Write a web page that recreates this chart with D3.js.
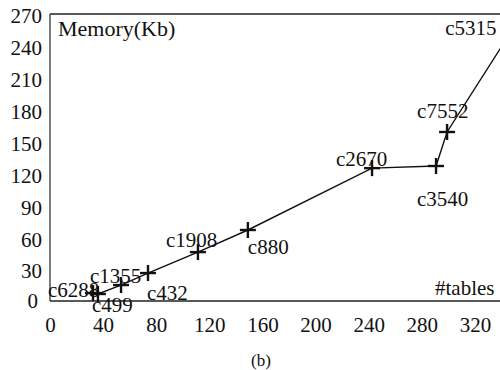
<!DOCTYPE html>
<html>
<head>
<meta charset="utf-8">
<script src="https://cdn.jsdelivr.net/npm/d3@7"></script>
<style>
  html, body { margin: 0; padding: 0; background: #fff; }
  svg { display: block; }
  text { font-family: "Liberation Serif", "Times New Roman", serif; fill: #111; }
</style>
</head>
<body>
<svg id="chart" width="500" height="370"></svg>
<script>
// ---- data ----
const circuits = ["c6288", "c499", "c1355", "c432", "c1908", "c880", "c2670", "c3540", "c7552", "c5315"];
const tables   = [32.4, 36.1, 53.5, 73.8, 111.4, 149, 242.5, 290.7, 299, 348];
const memoryKb = [7.5, 6.6, 15, 26.3, 46, 66.8, 125, 127, 159, 255];
const xTicks = [0, 40, 80, 120, 160, 200, 240, 280, 320];
const yTicks = [0, 30, 60, 90, 120, 150, 180, 210, 240, 270];

// label placement offsets (pixels, relative to the marker)
const labelOffsets = {
  c6288: [-45, 4], c499: [-6, 18], c1355: [-31, -2], c432: [-1, 27],
  c1908: [-32, -5], c880: [0, 24], c2670: [-36, -2], c3540: [-19, 40],
  c7552: [-30, -14], c5315: [-67, 5]
};

const svg = d3.select("#chart");
const x = d3.scaleLinear().domain([0, 340]).range([50, 50 + 340 * 1.328]);
const y = d3.scaleLinear().domain([0, 270]).range([301, 14]);

const data = circuits.map((c, i) => ({ name: c, x: tables[i], y: memoryKb[i] }));

// frame
svg.append("line").attr("x1", x(0)).attr("x2", 500).attr("y1", y(270)).attr("y2", y(270))
  .attr("stroke", "#222").attr("stroke-width", 1.5);
svg.append("line").attr("x1", x(0)).attr("x2", 500).attr("y1", y(0)).attr("y2", y(0))
  .attr("stroke", "#222").attr("stroke-width", 1.5);
svg.append("line").attr("x1", x(0)).attr("x2", x(0)).attr("y1", y(0)).attr("y2", y(270))
  .attr("stroke", "#222").attr("stroke-width", 1.2);

// axes (labels only)
const yAxis = d3.axisLeft(y).tickValues(yTicks).tickSize(0).tickPadding(8);
const yg = svg.append("g").attr("transform", `translate(${x(0)},0)`).call(yAxis);
yg.select(".domain").remove();
yg.selectAll("text").attr("font-size", 21).attr("dy", "0.42em")
  .style("font-family", "Liberation Serif, serif").attr("fill", "#111");
yg.selectAll(".tick").filter(d => d === 0).select("text").attr("dx", -4).attr("dy", "0.3em");

const xAxis = d3.axisBottom(x).tickValues(xTicks).tickSize(0).tickPadding(16);
const xg = svg.append("g").attr("transform", `translate(0,${y(0)})`).call(xAxis);
xg.select(".domain").remove();
xg.selectAll("text").attr("font-size", 21).attr("dy", "0.72em")
  .style("font-family", "Liberation Serif, serif").attr("fill", "#111");

// line
svg.append("path").datum(data)
  .attr("d", d3.line().x(d => x(d.x)).y(d => y(d.y)))
  .attr("fill", "none").attr("stroke", "#111").attr("stroke-width", 1.4);

// markers
const s = 8;
const mk = svg.append("g").selectAll("g").data(data).join("g")
  .attr("transform", d => `translate(${x(d.x)},${y(d.y)})`);
mk.append("line").attr("x1", -s).attr("x2", s).attr("stroke", "#111").attr("stroke-width", 2.4);
mk.append("line").attr("y1", -s).attr("y2", s).attr("stroke", "#111").attr("stroke-width", 2.4);

// point labels
svg.append("g").selectAll("text").data(data).join("text")
  .attr("x", d => x(d.x) + labelOffsets[d.name][0])
  .attr("y", d => y(d.y) + labelOffsets[d.name][1])
  .attr("font-size", 21)
  .text(d => d.name);

// axis titles
svg.append("text").attr("x", 58).attr("y", 36).attr("font-size", 22).text("Memory(Kb)");
svg.append("text").attr("x", 435).attr("y", 295).attr("font-size", 21).text("#tables");
svg.append("text").attr("x", 261).attr("y", 366).attr("font-size", 17)
  .attr("text-anchor", "middle").text("(b)");
</script>
</body>
</html>
